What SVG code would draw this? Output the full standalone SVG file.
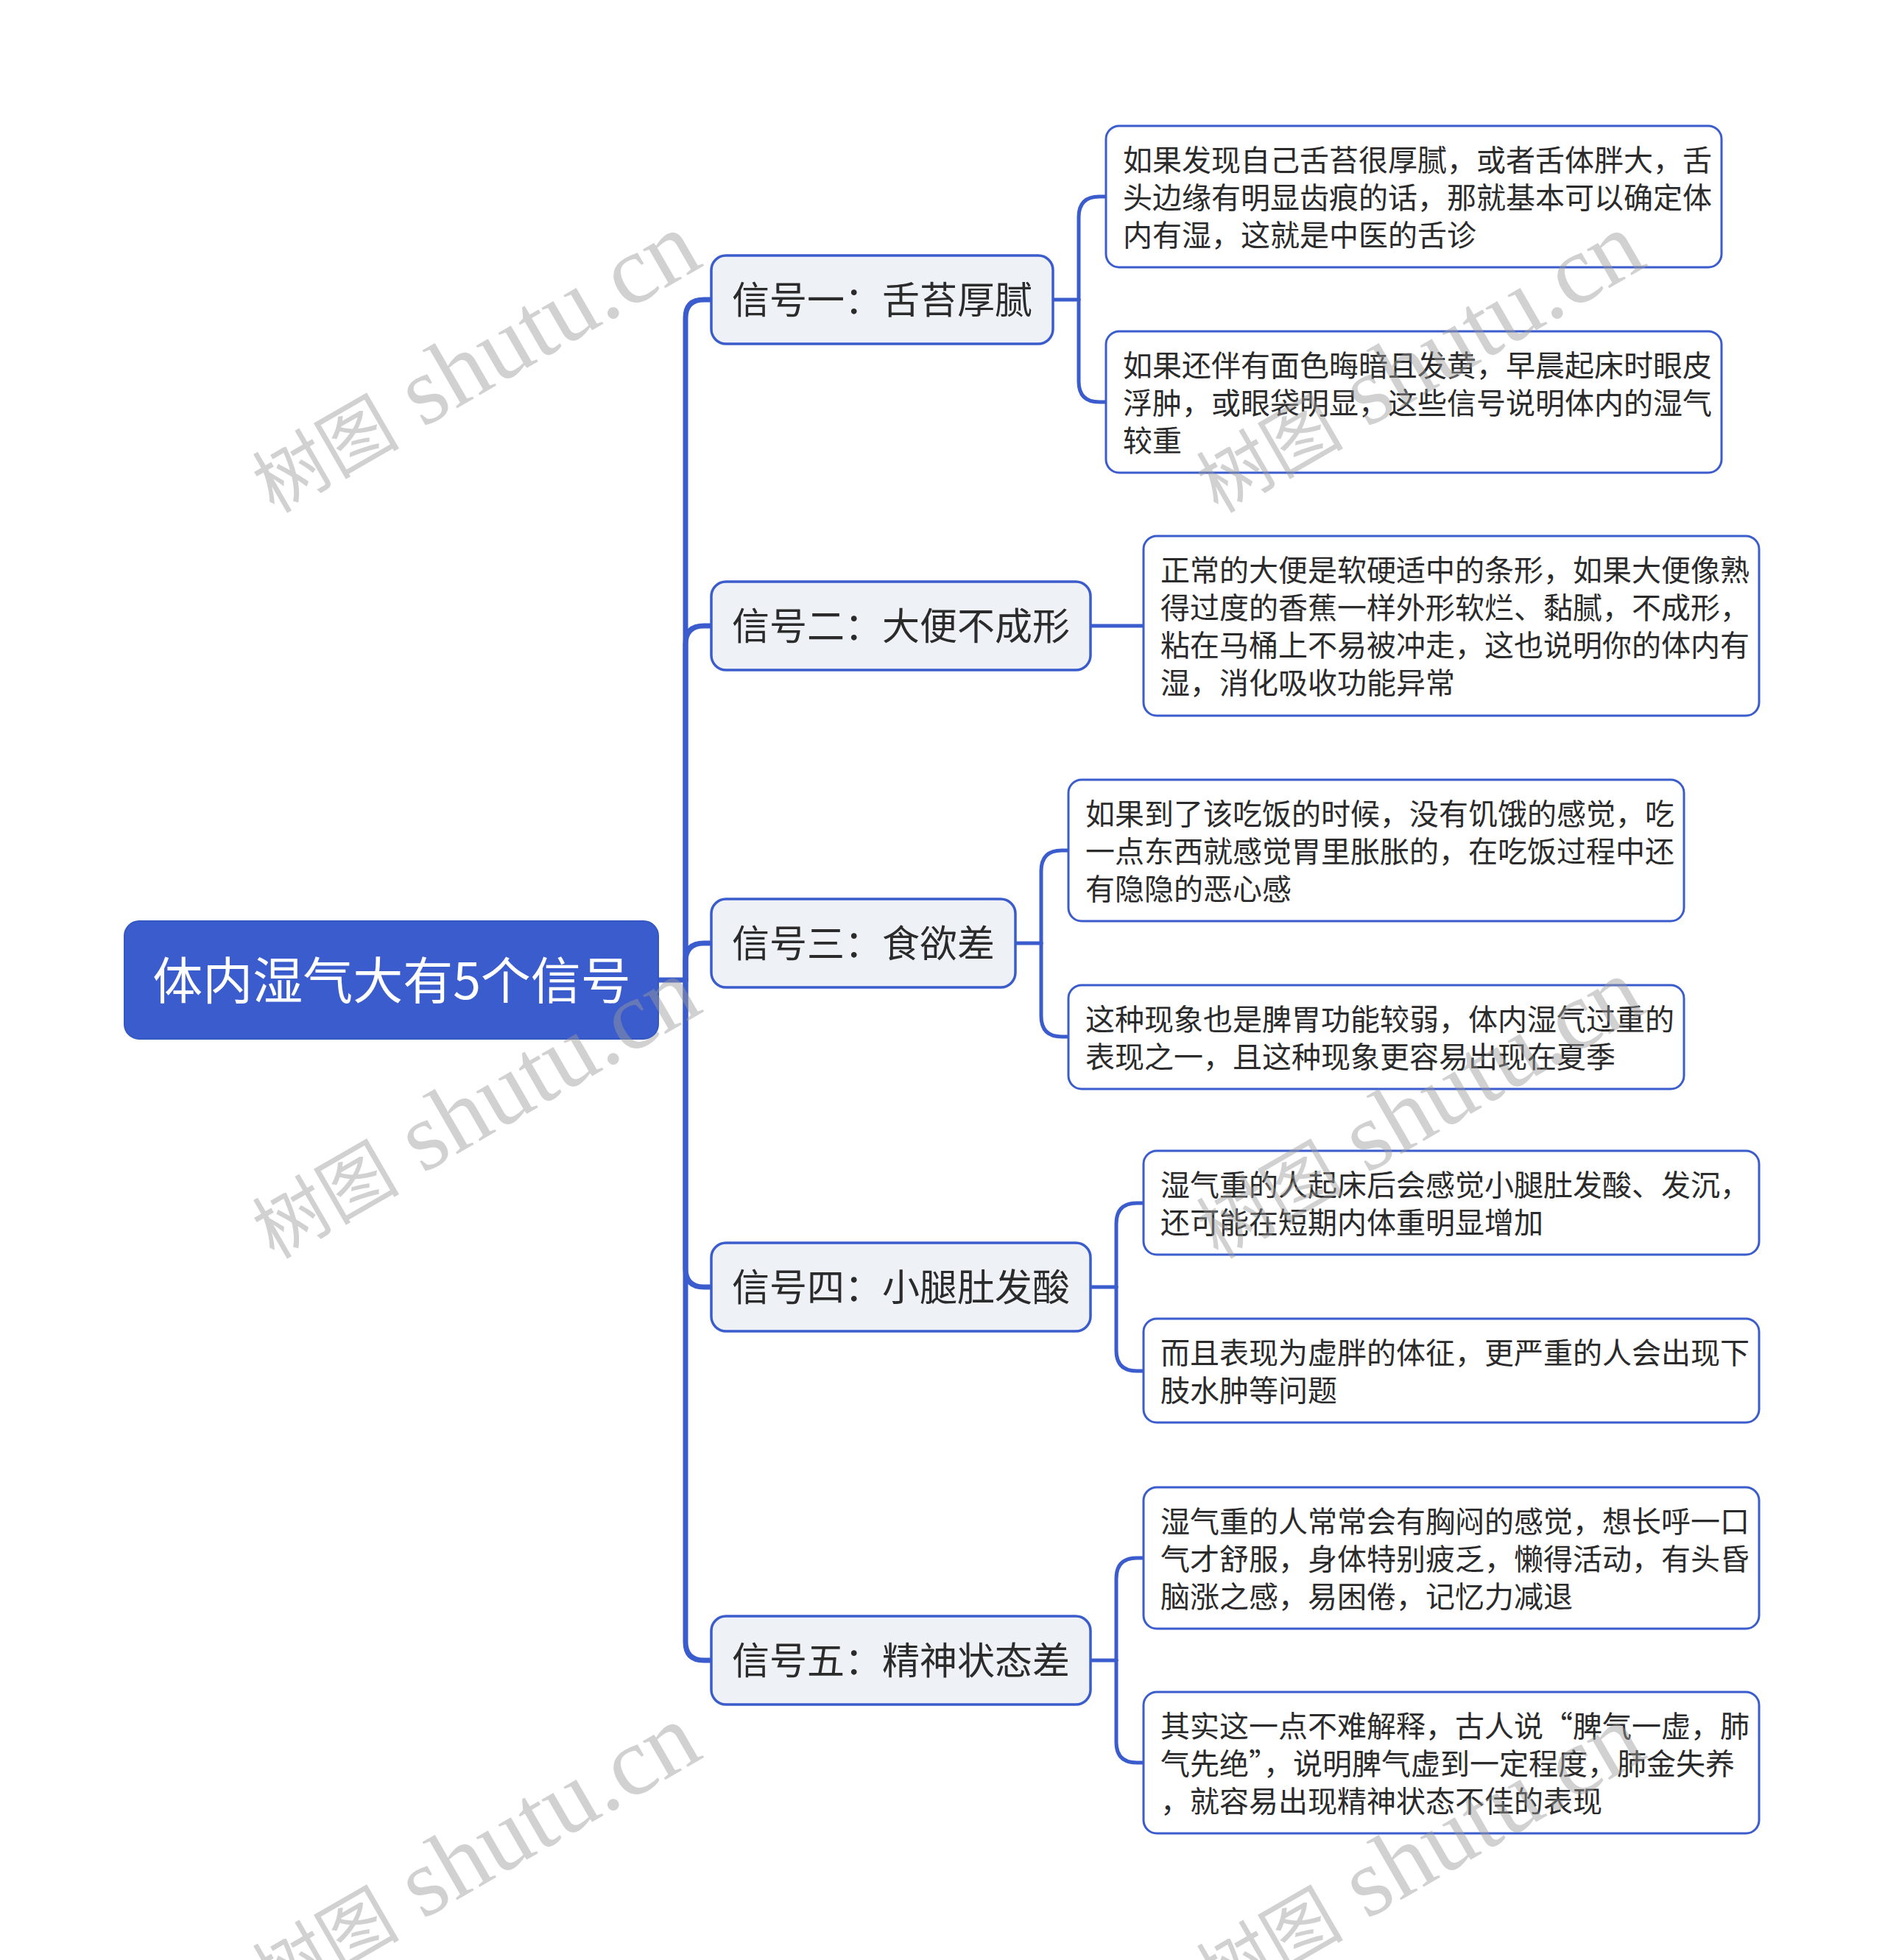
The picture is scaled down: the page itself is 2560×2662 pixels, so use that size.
<svg xmlns="http://www.w3.org/2000/svg" width="2560" height="2662" viewBox="0 0 2560 2662">
<style>
.bg{fill:#ffffff}
.root rect{fill:#3b5ccc;stroke:#3457c2;stroke-width:2}
.root text{fill:#ffffff;font-family:"Noto Sans CJK SC","Noto Sans",sans-serif;font-size:68px}
.l1 rect{fill:#eef1f6;stroke:#3b5ccc;stroke-width:3.5}
.l1 text{fill:#2b2b2b;font-family:"Noto Sans CJK SC","Noto Sans",sans-serif;font-size:51px;text-anchor:middle}
.l2 rect{fill:#ffffff;stroke:#3b5ccc;stroke-width:3}
.l2 text{fill:#2b2b2b;font-family:"Noto Sans CJK SC","Noto Sans",sans-serif;font-size:40px}
.trunk{fill:none;stroke:#3b5ccc;stroke-width:7;stroke-linecap:round}
.sub{fill:none;stroke:#3b5ccc;stroke-width:5;stroke-linecap:round}
.wm{fill:#9a9a9a;opacity:0.45;font-family:"Liberation Serif","Noto Sans CJK SC",serif;font-size:132px}
.wm tspan.c{font-family:"Noto Sans CJK SC",sans-serif;font-size:100px}
</style>
<rect class="bg" x="0" y="0" width="2560" height="2662"/>

<g id="connectors">
  <path class="trunk" d="M894,1331 H931"/>
  <path class="trunk" d="M931,1331 V432 Q931,407 956,407 H966"/>
  <path class="trunk" d="M931,1331 V875 Q931,850 956,850 H966"/>
  <path class="trunk" d="M931,1331 V1306 Q931,1281 956,1281 H966"/>
  <path class="trunk" d="M931,1331 V1723 Q931,1748 956,1748 H966"/>
  <path class="trunk" d="M931,1331 V2230 Q931,2255 956,2255 H966"/>

  <path class="sub" d="M1430,407 H1465"/>
  <path class="sub" d="M1465,407 V295 Q1465,267 1493,267 H1502"/>
  <path class="sub" d="M1465,407 V518 Q1465,546 1493,546 H1502"/>

  <path class="sub" d="M1481,850 H1553"/>

  <path class="sub" d="M1379,1281 H1414"/>
  <path class="sub" d="M1414,1281 V1183 Q1414,1155 1442,1155 H1451"/>
  <path class="sub" d="M1414,1281 V1380 Q1414,1408 1442,1408 H1451"/>

  <path class="sub" d="M1481,1748 H1516"/>
  <path class="sub" d="M1516,1748 V1662 Q1516,1634 1544,1634 H1553"/>
  <path class="sub" d="M1516,1748 V1834 Q1516,1862 1544,1862 H1553"/>

  <path class="sub" d="M1481,2255 H1516"/>
  <path class="sub" d="M1516,2255 V2144 Q1516,2116 1544,2116 H1553"/>
  <path class="sub" d="M1516,2255 V2366 Q1516,2394 1544,2394 H1553"/>
</g>

<g id="root" class="root">
  <rect x="169" y="1251" width="725" height="160" rx="20"/>
  <text x="532" y="1357" text-anchor="middle">体内湿气大有5个信号</text>
</g>

<g id="s1" class="l1">
  <rect x="966" y="347" width="464" height="120" rx="20"/>
  <text x="1198" y="426">信号一：舌苔厚腻</text>
</g>
<g id="s2" class="l1">
  <rect x="966" y="790" width="515" height="120" rx="20"/>
  <text x="1223.5" y="869">信号二：大便不成形</text>
</g>
<g id="s3" class="l1">
  <rect x="966" y="1221" width="413" height="120" rx="20"/>
  <text x="1172.5" y="1300">信号三：食欲差</text>
</g>
<g id="s4" class="l1">
  <rect x="966" y="1688" width="515" height="120" rx="20"/>
  <text x="1223.5" y="1767">信号四：小腿肚发酸</text>
</g>
<g id="s5" class="l1">
  <rect x="966" y="2195" width="515" height="120" rx="20"/>
  <text x="1223.5" y="2274">信号五：精神状态差</text>
</g>

<g id="n1a" class="l2">
  <rect x="1502" y="171" width="836" height="192" rx="18"/>
  <text x="1525" y="232">如果发现自己舌苔很厚腻，或者舌体胖大，舌</text>
  <text x="1525" y="283">头边缘有明显齿痕的话，那就基本可以确定体</text>
  <text x="1525" y="334">内有湿，这就是中医的舌诊</text>
</g>
<g id="n1b" class="l2">
  <rect x="1502" y="450" width="836" height="192" rx="18"/>
  <text x="1525" y="511">如果还伴有面色晦暗且发黄，早晨起床时眼皮</text>
  <text x="1525" y="562">浮肿，或眼袋明显，这些信号说明体内的湿气</text>
  <text x="1525" y="613">较重</text>
</g>
<g id="n2" class="l2">
  <rect x="1553" y="728" width="836" height="244" rx="18"/>
  <text x="1576" y="789">正常的大便是软硬适中的条形，如果大便像熟</text>
  <text x="1576" y="840">得过度的香蕉一样外形软烂、黏腻，不成形，</text>
  <text x="1576" y="891">粘在马桶上不易被冲走，这也说明你的体内有</text>
  <text x="1576" y="942">湿，消化吸收功能异常</text>
</g>
<g id="n3a" class="l2">
  <rect x="1451" y="1059" width="836" height="192" rx="18"/>
  <text x="1474" y="1120">如果到了该吃饭的时候，没有饥饿的感觉，吃</text>
  <text x="1474" y="1171">一点东西就感觉胃里胀胀的，在吃饭过程中还</text>
  <text x="1474" y="1222">有隐隐的恶心感</text>
</g>
<g id="n3b" class="l2">
  <rect x="1451" y="1338" width="836" height="141" rx="18"/>
  <text x="1474" y="1399">这种现象也是脾胃功能较弱，体内湿气过重的</text>
  <text x="1474" y="1450">表现之一，且这种现象更容易出现在夏季</text>
</g>
<g id="n4a" class="l2">
  <rect x="1553" y="1563" width="836" height="141" rx="18"/>
  <text x="1576" y="1624">湿气重的人起床后会感觉小腿肚发酸、发沉，</text>
  <text x="1576" y="1675">还可能在短期内体重明显增加</text>
</g>
<g id="n4b" class="l2">
  <rect x="1553" y="1791" width="836" height="141" rx="18"/>
  <text x="1576" y="1852">而且表现为虚胖的体征，更严重的人会出现下</text>
  <text x="1576" y="1903">肢水肿等问题</text>
</g>
<g id="n5a" class="l2">
  <rect x="1553" y="2020" width="836" height="192" rx="18"/>
  <text x="1576" y="2081">湿气重的人常常会有胸闷的感觉，想长呼一口</text>
  <text x="1576" y="2132">气才舒服，身体特别疲乏，懒得活动，有头昏</text>
  <text x="1576" y="2183">脑涨之感，易困倦，记忆力减退</text>
</g>
<g id="n5b" class="l2">
  <rect x="1553" y="2298" width="836" height="192" rx="18"/>
  <text x="1576" y="2359">其实这一点不难解释，古人说“脾气一虚，肺</text>
  <text x="1576" y="2410">气先绝”，说明脾气虚到一定程度，肺金失养</text>
  <text x="1576" y="2461">，就容易出现精神状态不佳的表现</text>
</g>

<g id="watermarks">
  <text class="wm" transform="translate(372,698) rotate(-30)"><tspan class="c">树图</tspan> shutu.cn</text>
  <text class="wm" transform="translate(1654,698) rotate(-30)"><tspan class="c">树图</tspan> shutu.cn</text>
  <text class="wm" transform="translate(372,1711) rotate(-30)"><tspan class="c">树图</tspan> shutu.cn</text>
  <text class="wm" transform="translate(1654,1711) rotate(-30)"><tspan class="c">树图</tspan> shutu.cn</text>
  <text class="wm" transform="translate(372,2724) rotate(-30)"><tspan class="c">树图</tspan> shutu.cn</text>
  <text class="wm" transform="translate(1654,2724) rotate(-30)"><tspan class="c">树图</tspan> shutu.cn</text>
</g>
</svg>
